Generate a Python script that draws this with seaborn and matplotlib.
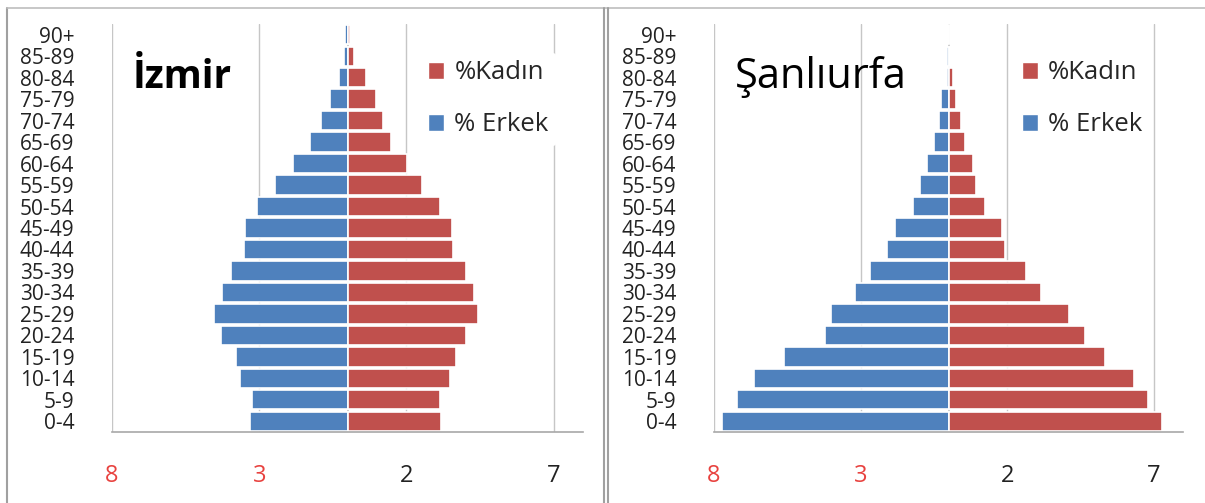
import matplotlib
matplotlib.use("Agg")
import matplotlib.pyplot as plt
from matplotlib.patches import Patch
from matplotlib.lines import Line2D
import seaborn as sns
import pandas as pd

# age groups, top to bottom
ages = ["90+", "85-89", "80-84", "75-79", "70-74", "65-69", "60-64", "55-59",
        "50-54", "45-49", "40-44", "35-39", "30-34", "25-29", "20-24", "15-19",
        "10-14", "5-9", "0-4"]

# % of population
izmir_erkek = [0.08, 0.12, 0.29, 0.61, 0.90, 1.26, 1.86, 2.45, 3.09, 3.48, 3.52,
               3.97, 4.28, 4.54, 4.30, 3.80, 3.66, 3.26, 3.31]
izmir_kadin = [0.08, 0.22, 0.63, 0.98, 1.20, 1.47, 2.02, 2.54, 3.13, 3.55, 3.60,
               4.04, 4.30, 4.44, 4.01, 3.67, 3.48, 3.13, 3.16]
urfa_erkek = [0.03, 0.04, 0.06, 0.24, 0.34, 0.50, 0.74, 0.96, 1.20, 1.84, 2.10,
              2.67, 3.20, 4.01, 4.22, 5.60, 6.64, 7.21, 7.72]
urfa_kadin = [0.03, 0.05, 0.16, 0.25, 0.42, 0.55, 0.82, 0.95, 1.25, 1.83, 1.93,
              2.64, 3.17, 4.10, 4.67, 5.34, 6.32, 6.80, 7.30]

tick_pos = [-8, -3, 2, 7]
tick_txt = ["8", "3", "2", "7"]

BLUE = "#4F81BD"
RED = "#C0504D"
GRID = "#C6C6C6"

sns.set_style("white")
plt.rcParams["font.family"] = ["Open Sans", "DejaVu Sans"]
NARROW = ["Liberation Sans Narrow", "Open Sans", "DejaVu Sans"]

W, H = 1205, 503
fig = plt.figure(figsize=(W / 100, H / 100), dpi=100)


def pyramid(ax, erkek, kadin, title, bold, title_size, leg_x):
    df = pd.DataFrame({
        "age": ages * 2,
        "value": [-v for v in erkek] + list(kadin),
        "sex": ["Erkek"] * len(ages) + ["Kadın"] * len(ages),
    })
    ax.axvline(0, color=GRID, lw=1.2, zorder=0.5)
    sns.barplot(data=df, x="value", y="age", hue="sex", order=ages,
                palette={"Erkek": BLUE, "Kadın": RED}, dodge=False,
                saturation=1, width=0.9, edgecolor="white", linewidth=1.2,
                orient="h", legend=False, ax=ax, zorder=2)
    ax.set_xlim(-8, 8)
    ax.set_xlabel("")
    ax.set_ylabel("")
    ax.set_xticks(tick_pos)
    ax.set_xticklabels(tick_txt, fontsize=17)
    for lab, v in zip(ax.get_xticklabels(), tick_pos):
        lab.set_color("#E8423F" if v < 0 else "#222222")
    ax.xaxis.grid(True, color=GRID, lw=1)
    ax.set_axisbelow(True)
    for s in ["top", "right", "left"]:
        ax.spines[s].set_visible(False)
    ax.spines["bottom"].set_color("#A8A8A8")
    ax.spines["bottom"].set_linewidth(1.2)
    ax.tick_params(axis="x", direction="out", length=4, color="#A8A8A8", pad=19)
    ax.tick_params(axis="y", length=0, pad=27, labelcolor="#222222")
    for lab in ax.get_yticklabels():
        lab.set_family(NARROW)
        lab.set_fontsize(15)

    ax.text(0.045, 0.87, title, transform=ax.transAxes, va="center", ha="left",
            fontsize=title_size, fontweight="bold" if bold else "normal",
            color="black")
    handles = [Patch(facecolor=RED, edgecolor="white"),
               Patch(facecolor=BLUE, edgecolor="white")]
    leg = ax.legend(handles, ["%Kadın", "% Erkek"], loc="upper left",
                    bbox_to_anchor=(leg_x, 0.93), frameon=True, fontsize=18.5,
                    handlelength=0.62, handleheight=0.62, handletextpad=0.4,
                    labelspacing=1.05, borderpad=0.3, borderaxespad=0)
    leg.get_frame().set_facecolor("white")
    leg.get_frame().set_edgecolor("white")
    leg.get_frame().set_alpha(1)


y0, y1 = 24, 432
ax1 = fig.add_axes([112 / W, 1 - y1 / H, (583 - 112) / W, (y1 - y0) / H])
pyramid(ax1, izmir_erkek, izmir_kadin, "İzmir", True, 28, 0.655)

ax2 = fig.add_axes([714 / W, 1 - y1 / H, (1183 - 714) / W, (y1 - y0) / H])
pyramid(ax2, urfa_erkek, urfa_kadin, "Şanlıurfa", False, 30, 0.64)

# panel frames
frame = "#A0A0A0"
fy = 1 - 8 / H
fig.add_artist(Line2D([7 / W, 7 / W], [0, fy], color=frame, lw=1.5))
fig.add_artist(Line2D([7 / W, 1], [fy, fy], color="#BDBDBD", lw=1.2))
fig.add_artist(Line2D([604 / W, 604 / W], [0, fy], color=frame, lw=1.5))
fig.add_artist(Line2D([608 / W, 608 / W], [0, fy], color=frame, lw=1.5))

fig.savefig("out.png", dpi=100)
